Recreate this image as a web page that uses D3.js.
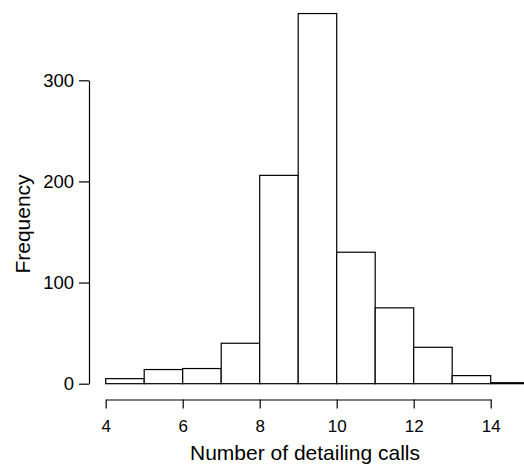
<!DOCTYPE html>
<html>
<head>
<meta charset="utf-8">
<script src="https://cdn.jsdelivr.net/npm/d3@7"></script>
<style>
  body { margin: 0; background: #fff; }
  svg { display: block; font-family: "Liberation Sans", Arial, Helvetica, sans-serif; }
</style>
</head>
<body>
<svg id="chart" width="524" height="466"></svg>
<script>
// bin edges (left) and counts
const binStarts = [4, 5, 6, 7, 8, 9, 10, 11, 12, 13, 14];
const binWidth = 1;
const counts = [5, 14, 15, 40, 206, 366, 130, 75, 36, 8, 1];
const xTicks = [4, 6, 8, 10, 12, 14];
const yTicks = [0, 100, 200, 300];

const svg = d3.select("#chart");

// scales
const x = d3.scaleLinear().domain([4, 14]).range([105.7, 490.7]);
const y = d3.scaleLinear().domain([0, 300]).range([383.7, 80.3]);

// bars
svg.append("g")
  .selectAll("rect")
  .data(binStarts.map((s, i) => ({ x0: s, x1: s + binWidth, n: counts[i] })))
  .join("rect")
  .attr("x", d => x(d.x0))
  .attr("y", d => y(d.n))
  .attr("width", d => x(d.x1) - x(d.x0))
  .attr("height", d => y(0) - y(d.n))
  .attr("fill", "#fff")
  .attr("stroke", "#000")
  .attr("stroke-width", 1.2);

// x axis
const xAxis = svg.append("g")
  .attr("transform", "translate(0,399.5)")
  .call(d3.axisBottom(x).tickValues(xTicks).tickSize(9).tickPadding(11).tickSizeOuter(0));

// y axis
const yAxis = svg.append("g")
  .attr("transform", "translate(89,0)")
  .call(d3.axisLeft(y).tickValues(yTicks).tickSize(10).tickPadding(5).tickSizeOuter(0));

[xAxis, yAxis].forEach(g => {
  g.select(".domain").attr("stroke", "#000").attr("stroke-width", 1.2);
  g.selectAll(".tick line").attr("stroke", "#000").attr("stroke-width", 1.2);
  g.selectAll(".tick text")
    .attr("fill", "#000")
    .style("font-family", "'Liberation Sans', Arial, sans-serif");
});
xAxis.selectAll(".tick text").style("font-size", "17px");
yAxis.selectAll(".tick text").style("font-size", "18.5px");

// axis titles
svg.append("text")
  .attr("x", 305)
  .attr("y", 460)
  .attr("text-anchor", "middle")
  .style("font-size", "21px")
  .text("Number of detailing calls");

svg.append("text")
  .attr("transform", "translate(30,224) rotate(-90)")
  .attr("text-anchor", "middle")
  .style("font-size", "21px")
  .text("Frequency");
</script>
</body>
</html>
